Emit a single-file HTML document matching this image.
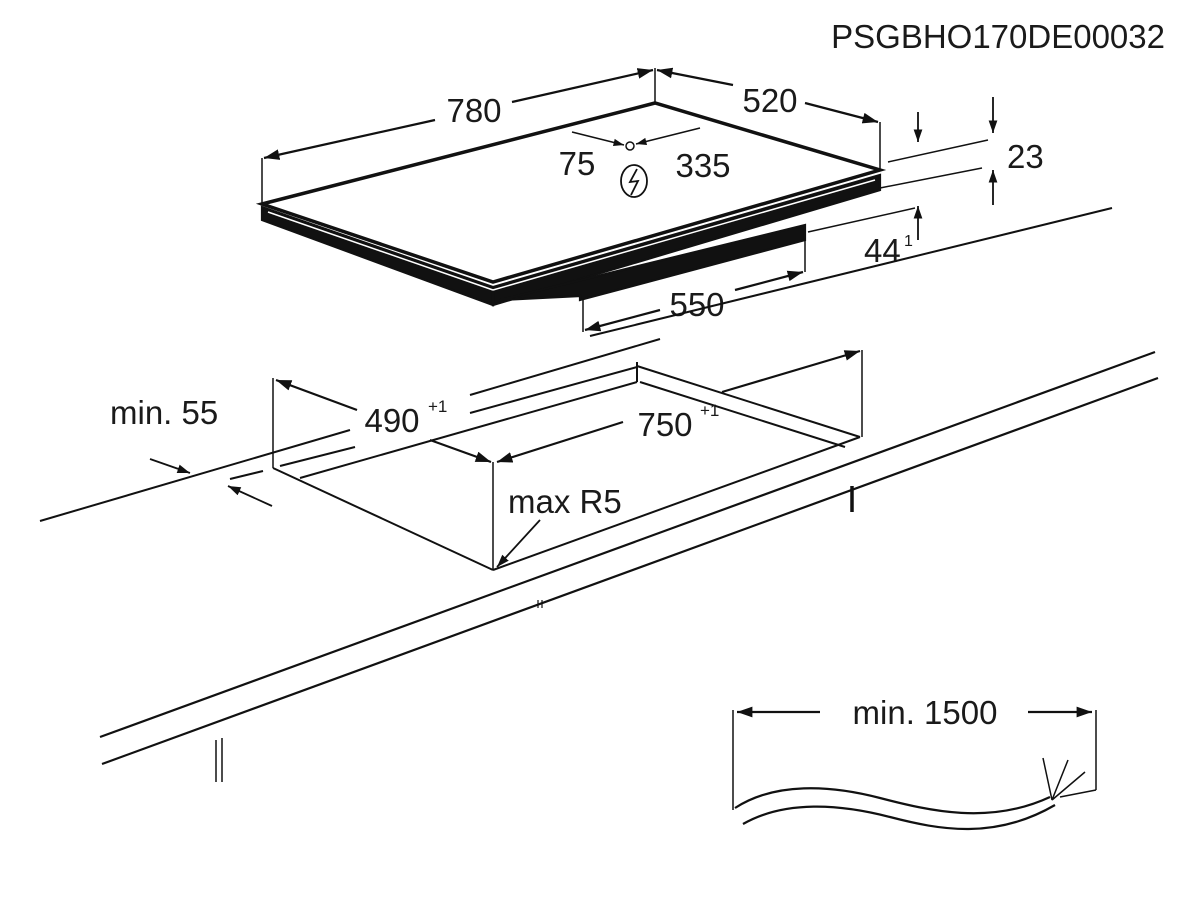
<!DOCTYPE html>
<html><head><style>
html,body{margin:0;padding:0;background:#fff;}
svg{display:block;}
text{font-family:"Liberation Sans",sans-serif;fill:#1a1a1a;}
</style></head><body>
<svg width="1200" height="902" viewBox="0 0 1200 902" xmlns="http://www.w3.org/2000/svg">
<defs>
<marker id="a" viewBox="0 0 10 10" refX="10" refY="5" markerWidth="7" markerHeight="7" orient="auto-start-reverse">
<path d="M0,1.5 L10,5 L0,8.5 z" fill="#111"/></marker>
</defs>
<g stroke="#111" fill="none" stroke-width="2.2">
<text x="1165" y="48" font-size="33" text-anchor="end" stroke="none">PSGBHO170DE00032</text>

<!-- hob -->
<polygon points="262,207 493,287 493,305 262,220" fill="#111"/>
<polygon points="493,287 880,175 880,190 493,305" fill="#111"/>
<polygon points="500,300 805,225 805,240 580,300 580,296" fill="#111"/>
<polygon points="262,204 655,103 880,170 493,282" fill="#fff" stroke-width="3.5"/>
<line x1="268" y1="212" x2="493" y2="290" stroke="#fff" stroke-width="1.5"/>
<line x1="493" y1="290" x2="875" y2="180" stroke="#fff" stroke-width="1.5"/>

<!-- 780 / 520 -->
<line x1="262" y1="158" x2="262" y2="205" stroke-width="1.5"/>
<line x1="655" y1="68" x2="655" y2="103" stroke-width="1.5"/>
<line x1="880" y1="122" x2="880" y2="170" stroke-width="1.5"/>
<line x1="435" y1="120" x2="264" y2="158" marker-end="url(#a)"/>
<line x1="512" y1="102" x2="653" y2="70" marker-end="url(#a)"/>
<line x1="733" y1="85" x2="657" y2="70" marker-end="url(#a)"/>
<line x1="805" y1="103" x2="878" y2="122" marker-end="url(#a)"/>
<text x="474" y="122" font-size="33" text-anchor="middle" stroke="none">780</text>
<text x="770" y="112" font-size="33" text-anchor="middle" stroke="none">520</text>
<!-- 75 / 335 -->
<line x1="572" y1="132" x2="624" y2="145" marker-end="url(#a)" stroke-width="1.5"/>
<line x1="700" y1="128" x2="636" y2="144" marker-end="url(#a)" stroke-width="1.5"/>
<circle cx="630" cy="146" r="4" stroke-width="1.5"/>
<text x="577" y="175" font-size="33" text-anchor="middle" stroke="none">75</text>
<text x="703" y="177" font-size="33" text-anchor="middle" stroke="none">335</text>
<ellipse cx="634" cy="181" rx="13" ry="16" stroke-width="1.8"/>
<path d="M637,169 L630,182 L638,181 L631,195" stroke-width="1.8"/>

<!-- 23 / 44 -->
<line x1="888" y1="162" x2="988" y2="140" stroke-width="1.5"/>
<line x1="880" y1="188" x2="982" y2="168" stroke-width="1.5"/>
<line x1="808" y1="232" x2="915" y2="208" stroke-width="1.5"/>
<line x1="918" y1="112" x2="918" y2="142" marker-end="url(#a)" stroke-width="1.8"/>
<line x1="993" y1="97" x2="993" y2="133" marker-end="url(#a)" stroke-width="1.8"/>
<line x1="993" y1="205" x2="993" y2="170" marker-end="url(#a)" stroke-width="1.8"/>
<line x1="918" y1="240" x2="918" y2="206" marker-end="url(#a)" stroke-width="1.8"/>
<text x="1007" y="168" font-size="33" stroke="none">23</text>
<text x="864" y="262" font-size="33" stroke="none">44</text>
<text x="904" y="246" font-size="16" stroke="none">1</text>

<!-- 550 -->
<line x1="583" y1="298" x2="583" y2="332" stroke-width="1.5"/>
<line x1="805" y1="238" x2="805" y2="272" stroke-width="1.5"/>
<line x1="660" y1="310" x2="585" y2="330" marker-end="url(#a)"/>
<line x1="735" y1="290" x2="803" y2="272" marker-end="url(#a)"/>
<text x="697" y="316" font-size="33" text-anchor="middle" stroke="none">550</text>
<line x1="590" y1="336" x2="1112" y2="208" stroke-width="2"/>

<!-- worktop & cutout -->
<line x1="40" y1="521" x2="350" y2="430" stroke-width="2"/>
<line x1="470" y1="395" x2="660" y2="339" stroke-width="2"/>
<line x1="230" y1="479" x2="263" y2="471" stroke-width="2"/>
<line x1="280" y1="466" x2="355" y2="447" stroke-width="2"/>
<line x1="470" y1="413" x2="637" y2="367" stroke-width="2"/>
<line x1="300" y1="478" x2="637" y2="382" stroke-width="2"/>
<line x1="637" y1="366" x2="860" y2="437" stroke-width="2"/>
<line x1="640" y1="382" x2="845" y2="447" stroke-width="2"/>
<line x1="637" y1="362" x2="637" y2="382" stroke-width="2"/>
<line x1="273" y1="378" x2="273" y2="468" stroke-width="1.5"/>
<line x1="273" y1="468" x2="493" y2="570" stroke-width="2"/>
<line x1="493" y1="570" x2="860" y2="437" stroke-width="2"/>
<line x1="862" y1="350" x2="862" y2="437" stroke-width="1.5"/>
<line x1="493" y1="462" x2="493" y2="570" stroke-width="1.5"/>
<line x1="357" y1="410" x2="276" y2="380" marker-end="url(#a)"/>
<line x1="430" y1="440" x2="491" y2="462" marker-end="url(#a)"/>
<line x1="623" y1="422" x2="497" y2="462" marker-end="url(#a)"/>
<line x1="722" y1="392" x2="860" y2="351" marker-end="url(#a)"/>
<text x="392" y="432" font-size="33" text-anchor="middle" stroke="none">490</text>
<text x="428" y="412" font-size="17" stroke="none">+1</text>
<text x="665" y="436" font-size="33" text-anchor="middle" stroke="none">750</text>
<text x="700" y="416" font-size="17" stroke="none">+1</text>
<text x="110" y="424" font-size="33" stroke="none">min. 55</text>
<line x1="150" y1="459" x2="190" y2="473" marker-end="url(#a)" stroke-width="1.8"/>
<line x1="272" y1="506" x2="228" y2="486" marker-end="url(#a)" stroke-width="1.8"/>
<text x="508" y="513" font-size="33" stroke="none">max R5</text>
<line x1="540" y1="520" x2="497" y2="567" marker-end="url(#a)" stroke-width="1.8"/>

<line x1="100" y1="737" x2="1155" y2="352" stroke-width="2.2"/>
<line x1="102" y1="764" x2="1158" y2="378" stroke-width="2.2"/>
<line x1="852" y1="486" x2="852" y2="512" stroke-width="3.5"/>
<line x1="216" y1="740" x2="216" y2="782" stroke-width="1.5"/>
<line x1="222" y1="738" x2="222" y2="782" stroke-width="1.5"/>
<line x1="538" y1="600" x2="538" y2="608" stroke-width="1.2"/>
<line x1="542" y1="600" x2="542" y2="608" stroke-width="1.2"/>

<!-- cable -->
<line x1="733" y1="710" x2="733" y2="810" stroke-width="1.5"/>
<line x1="1096" y1="710" x2="1096" y2="790" stroke-width="1.5"/>
<line x1="1096" y1="790" x2="1060" y2="797" stroke-width="1.5"/>
<line x1="820" y1="712" x2="737" y2="712" marker-end="url(#a)"/>
<line x1="1028" y1="712" x2="1092" y2="712" marker-end="url(#a)"/>
<text x="925" y="724" font-size="33" text-anchor="middle" stroke="none">min. 1500</text>
<path d="M735,808 C775,782 830,785 880,798 S990,825 1050,797" stroke-width="2.2"/>
<path d="M743,824 C785,800 840,804 890,817 S995,840 1055,805" stroke-width="2.2"/>
<path d="M1052,800 L1043,758 M1052,800 L1068,760 M1052,800 L1085,772" stroke-width="1.5"/>
</g>
</svg>
</body></html>
